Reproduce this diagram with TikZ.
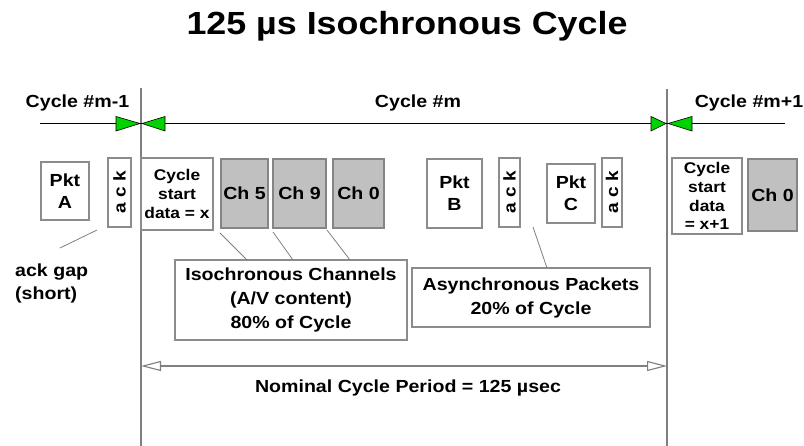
\documentclass[tikz,border=0pt]{standalone}
\usepackage{fontspec}
\setmainfont{Liberation Sans}[FakeStretch=1.12]
\usetikzlibrary{arrows.meta}
\definecolor{boxgray}{HTML}{8C8C8C}
\definecolor{chgray}{HTML}{C0C0C0}
\definecolor{chedge}{HTML}{858585}
\definecolor{vgray}{HTML}{7F7F7F}
\definecolor{bowgreen}{HTML}{00D400}
\begin{document}
\begin{tikzpicture}[x=1pt,y=-1pt,
  lbl/.style={inner sep=0pt, font=\fontsize{17.5}{21}\selectfont\bfseries},
  box/.style={draw=boxgray, line width=1.1pt, fill=white, inner sep=0pt, align=center,
    font=\fontsize{17.5}{22}\selectfont\bfseries},
  chbox/.style={box, fill=chgray, draw=chedge},
  csbox/.style={box, font=\fontsize{15.5}{18.8}\selectfont\bfseries},
  ackbox/.style={box, rotate=90, font=\fontsize{17}{20}\selectfont\bfseries},
  infobox/.style={box, font=\fontsize{17.5}{24}\selectfont\bfseries},
  vline/.style={draw=vgray, line width=1.3pt},
  leader/.style={draw=vgray, line width=0.8pt},
  bow/.style={fill=bowgreen, draw=black, line width=0.6pt},
  tline/.style={draw=black, line width=1.5pt}]
\useasboundingbox (0,0) rectangle (804,446);

% title
\node[inner sep=0pt, font=\fontsize{32}{36}\selectfont\bfseries] (title) at (407,26) {125 µs Isochronous Cycle};

% vertical cycle boundaries
\coordinate (vLtop) at (141,88);
\coordinate (vLbot) at (141,446);
\coordinate (vRtop) at (667,89);
\coordinate (vRbot) at (667,446);
\draw[vline] (vLtop) -- (vLbot);
\draw[vline] (vRtop) -- (vRbot);

% timeline
\coordinate (tl0) at (40,123.5);
\coordinate (tl1) at (785,123.5);
\draw[tline] (tl0) -- (tl1);

% bowties
\draw[bow] (116,116.5) -- (116,131) -- (140,123.5) -- cycle;
\draw[bow] (165,116.5) -- (165,131) -- (142,123.5) -- cycle;
\draw[bow] (651,116.5) -- (651,131) -- (666,123.5) -- cycle;
\draw[bow] (692,116.5) -- (692,131) -- (668,123.5) -- cycle;

% cycle labels
\node[lbl] (cm1) at (77.5,103) {Cycle \#m-1};
\node[lbl] (cm) at (418,103) {Cycle \#m};
\node[lbl] (cp1) at (749,103) {Cycle \#m+1};

% packets
\node[box, minimum width=48pt, minimum height=58pt] (pktA) at (65,191) {Pkt\\A};
\node[ackbox, minimum width=69pt, minimum height=23pt] (ackA) at (119.5,192.5) {a c k};
\node[csbox, minimum width=72pt, minimum height=72pt] (cs1) at (177,194) {Cycle\\start\\data = x};
\node[chbox, minimum width=47pt, minimum height=69pt] (ch5) at (244.5,193.5) {Ch 5};
\node[chbox, minimum width=53pt, minimum height=69pt] (ch9) at (299.5,193.5) {Ch 9};
\node[chbox, minimum width=51pt, minimum height=69pt] (ch0) at (358.5,193.5) {Ch 0};
\node[box, minimum width=55pt, minimum height=69pt] (pktB) at (454.5,193.5) {Pkt\\B};
\node[ackbox, minimum width=69pt, minimum height=21pt] (ackB) at (509.5,192.5) {a c k};
\node[box, minimum width=48pt, minimum height=59pt] (pktC) at (571,193.5) {Pkt\\C};
\node[ackbox, minimum width=69pt, minimum height=20pt] (ackC) at (612,192.5) {a c k};
\node[csbox, minimum width=70pt, minimum height=76pt] (cs2) at (707,196) {Cycle\\start\\data\\= x+1};
\node[chbox, minimum width=49pt, minimum height=72pt] (ch0b) at (772.5,195) {Ch 0};

% info boxes
\node[infobox, minimum width=232pt, minimum height=80pt] (iso) at (291,300) {Isochronous Channels\\(A/V content)\\80\% of Cycle};
\node[infobox, minimum width=238pt, minimum height=59pt] (async) at (531,297.5) {Asynchronous Packets\\20\% of Cycle};

% ack gap label
\node[lbl, align=left, anchor=west, font=\fontsize{17.5}{23}\selectfont\bfseries] (ackgap) at (15,283.5) {ack gap\\(short)};

% leader lines
\coordinate (ag0) at (60,248);
\coordinate (ag1) at (97,230);
\draw[leader] (ag0) -- (ag1);
\coordinate (i1a) at (220,233);
\coordinate (i2a) at (273,232);
\coordinate (i3a) at (327,230);
\draw[leader] (i1a) -- (247,260);
\draw[leader] (i2a) -- (293,260);
\draw[leader] (i3a) -- (350,260);
\coordinate (a1) at (533,227);
\draw[leader] (a1) -- (547,268);

% nominal period arrow
\coordinate (nL) at (141,366);
\coordinate (nR) at (667,366);
\draw[draw=vgray, line width=1.1pt, {Triangle[open, fill=white, length=20pt, width=10pt]}-{Triangle[open, fill=white, length=20pt, width=10pt]}] (nL) -- (nR);
\node[lbl] (nom) at (408,388) {Nominal Cycle Period = 125 µsec};
\end{tikzpicture}
\end{document}
